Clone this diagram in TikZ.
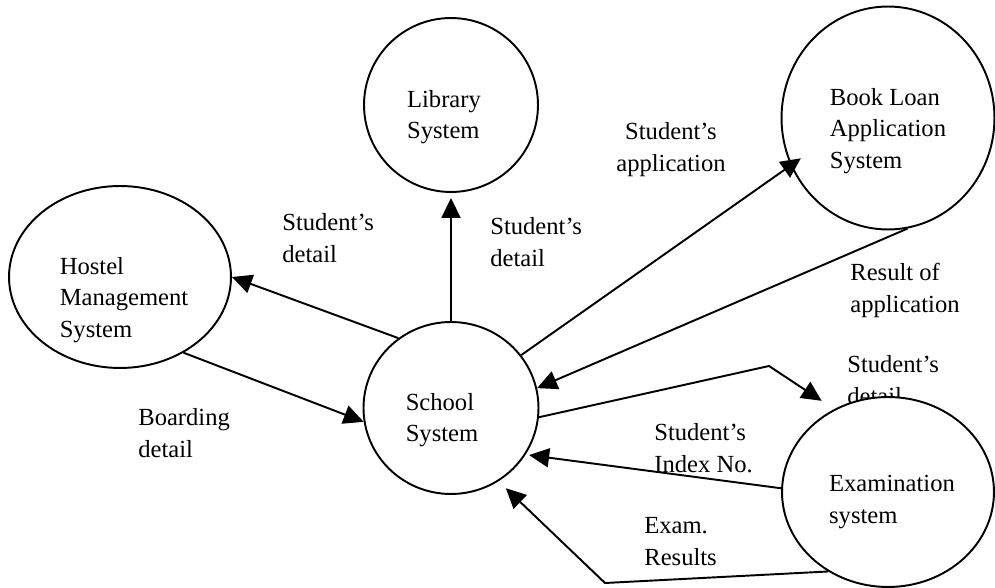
\documentclass[tikz,border=0pt]{standalone}
\usepackage{fontspec}
\setmainfont{Liberation Serif}
\usetikzlibrary{shapes.geometric,arrows.meta}

\begin{document}
\begin{tikzpicture}[x=0.02cm,y=-0.02cm,
  font=\fontsize{14}{18}\selectfont,
  proc/.style={ellipse,draw,fill=white,line width=1.1pt,inner sep=0pt},
  txt/.style={inner sep=0pt,align=left},
  flow/.style={line width=1.1pt,-{Triangle[length=4mm,width=3.8mm]}},
  lbl/.style={anchor=north west,inner sep=0pt,align=left}]
  \useasboundingbox (0,0) rectangle (995,588);
  % flow labels (drawn before the bubbles)
  \node[lbl] (hosteldet) at (282,213) {Student's\\detail};
  \node[lbl] (librarydet) at (490,217) {Student's\\detail};
  \node[lbl,anchor=north,align=center] (bookapp) at (671,122) {Student's\\application};
  \node[lbl] (bookres) at (850,263) {Result of\\application};
  \node[lbl] (examdet) at (847,355) {Student's\\detail};
  \node[lbl] (examidx) at (654,423) {Student's\\Index No.};
  \node[lbl] (examres) at (644,517) {Exam.\\Results};
  \node[lbl] (boarddet) at (138,408) {Boarding\\detail};
  % bubbles
  \node[proc,minimum width=3.48cm,minimum height=3.48cm] (library) at (451,105) {};
  \node[proc,minimum width=4.44cm,minimum height=3.64cm] (hostel) at (120,277) {};
  \node[proc,minimum width=3.5cm,minimum height=3.44cm] (school) at (451,408) {};
  \node[proc,minimum width=4.26cm,minimum height=4.46cm] (book) at (888,118) {};
  \node[proc,minimum width=4.24cm,minimum height=3.8cm] (exam) at (888,492) {};
  \node[txt] (librarytxt) at ([shift={(-7,12)}]library.center) {Library\\System};
  \node[txt] (hosteltxt) at ([shift={(4,23)}]hostel.center) {Hostel\\Management\\System};
  \node[txt] (schooltxt) at ([shift={(-9,12)}]school.center) {School\\System};
  \node[txt] (booktxt) at ([shift={(0,13)}]book.center) {Book Loan\\Application\\System};
  \node[txt] (examtxt) at ([shift={(4,10)}]exam.center) {Examination\\system};
  \coordinate (examin) at (769,366);
  \coordinate (examout) at (605,583);
  % flows
  \draw[flow,shorten >=0.1cm] (school.north) -- (library.south);
  \draw[flow] (school.127) -- (hostel.east);
  \draw[flow] (hostel.-50) -- (school.189);
  \draw[flow,shorten >=-0.25cm] (school.37) -- (book.206);
  \draw[flow] (book.-80) -- (school.13);
  \draw[flow,shorten >=0.3cm] (school.-6) -- (examin) -- (exam.123);
  \draw[flow,shorten >=2pt] (exam.178) -- (school.-32);
  \draw[flow,shorten >=0.2cm] (exam.233) -- (examout) -- (school.-57);
\end{tikzpicture}
\end{document}
